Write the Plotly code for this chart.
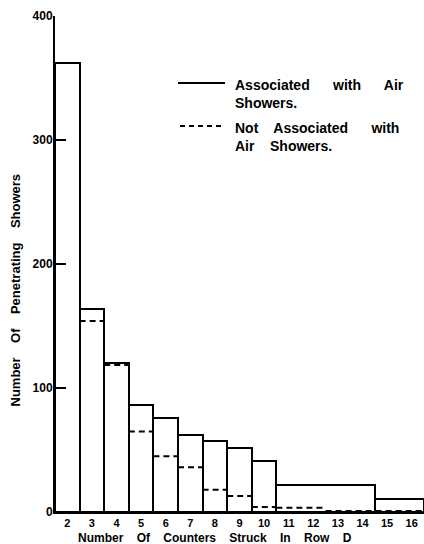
import plotly.graph_objects as go

# Solid histogram: associated with air showers (bin edges and counts)
assoc_left = [1.5, 2.5, 3.5, 4.5, 5.5, 6.5, 7.5, 8.5, 9.5, 10.5, 14.5]
assoc_right = [2.5, 3.5, 4.5, 5.5, 6.5, 7.5, 8.5, 9.5, 10.5, 14.5, 16.5]
assoc_counts = [362, 164, 120, 86, 76, 62, 57, 52, 41, 22, 10.5]

# Dashed histogram: not associated with air showers (step edges and counts)
notassoc_edges = [2.5, 3.5, 4.5, 5.5, 6.5, 7.5, 8.5, 9.5, 10.5, 12.5, 16.5]
notassoc_counts = [154, 118.5, 65, 45, 36, 18, 13, 4, 3.5, 0.8]

tick_vals = list(range(2, 17))
tick_text = [str(v) for v in tick_vals]
y_ticks = [0, 100, 200, 300, 400]

FONT = "Liberation Sans"
W, H = 424, 544
L, R, T, B = 55, 0, 16, 32

fig = go.Figure()

centers = [(a + b) / 2 for a, b in zip(assoc_left, assoc_right)]
widths = [b - a for a, b in zip(assoc_left, assoc_right)]
fig.add_trace(go.Bar(
    x=centers, y=assoc_counts, width=widths,
    marker=dict(color="white", line=dict(color="black", width=2)),
    showlegend=False, hoverinfo="skip",
))

# dashed steps
xs, ys = [], []
for i, c in enumerate(notassoc_counts):
    xs += [notassoc_edges[i], notassoc_edges[i + 1], None]
    ys += [c, c, None]
fig.add_trace(go.Scatter(
    x=xs, y=ys, mode="lines",
    line=dict(color="black", width=2, dash="6px,4px"),
    showlegend=False, hoverinfo="skip", connectgaps=False,
))

xtickfont = dict(family=FONT, size=11, weight="bold", color="black")
ytickfont = dict(family=FONT, size=12, weight="bold", color="black")
fig.update_layout(
    width=W, height=H,
    margin=dict(l=L, r=R, t=T, b=B, autoexpand=False),
    paper_bgcolor="white", plot_bgcolor="white",
    bargap=0,
    font=dict(family=FONT, color="black", size=12),
    xaxis=dict(
        range=[1.5, 16.5], tickvals=tick_vals, ticktext=tick_text,
        showgrid=False, zeroline=False, showline=True, linecolor="black",
        linewidth=2, ticks="", tickfont=xtickfont, automargin=False,
        fixedrange=True,
    ),
    yaxis=dict(
        range=[0, 400], tickvals=y_ticks, ticks="inside", ticklen=11,
        tickwidth=2, tickcolor="black",
        showgrid=False, zeroline=False, showline=True, linecolor="black",
        linewidth=2, tickfont=ytickfont, automargin=False,
        ticklabelstandoff=-2,
        fixedrange=True,
    ),
)

pw = W - L - R
ph = H - T - B
def px(xp):
    return (xp - L) / pw
def py(yp):
    return (H - B - yp) / ph

title_font = dict(family=FONT, size=12, color="black", weight="bold")
fig.add_annotation(
    text="Number    Of    Counters    Struck    In    Row    D", xref="paper", yref="paper",
    x=px(215), y=py(537.5), showarrow=False, font=title_font,
    xanchor="center", yanchor="middle",
)
fig.add_annotation(
    text="Number    Of    Penetrating    Showers", xref="paper", yref="paper",
    x=px(15), y=py(290.5), showarrow=False,
    font=dict(family=FONT, size=13, color="black", weight="bold"), textangle=-90,
    xanchor="center", yanchor="middle",
)

# legend
legend_font = dict(family=FONT, size=14, color="black", weight="bold")
fig.add_shape(type="line", xref="paper", yref="paper",
              x0=px(178), x1=px(225), y0=py(83), y1=py(83),
              line=dict(color="black", width=2))
fig.add_shape(type="line", xref="paper", yref="paper",
              x0=px(180), x1=px(223), y0=py(126), y1=py(126),
              line=dict(color="black", width=2, dash="5px,4px"))
fig.add_annotation(
    text="Associated      with      Air<br>Showers.", xref="paper", yref="paper",
    x=px(233), y=py(75), showarrow=False, font=legend_font, align="left",
    xanchor="left", yanchor="top",
)
fig.add_annotation(
    text="Not    Associated      with<br>Air    Showers.", xref="paper", yref="paper",
    x=px(233), y=py(118), showarrow=False, font=legend_font, align="left",
    xanchor="left", yanchor="top",
)

fig.write_html(
    "out.html",
    config={"displayModeBar": False},
    post_script="document.body.style.margin='0';document.body.style.overflow='hidden';",
)
